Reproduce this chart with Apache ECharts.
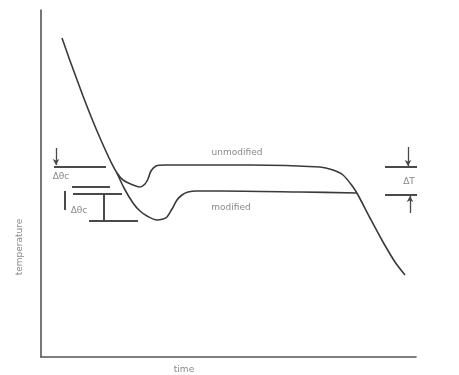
<!DOCTYPE html>
<html>
<head>
<meta charset="utf-8">
<script src="https://cdn.jsdelivr.net/npm/echarts@6/dist/echarts.min.js"></script>
<style>html,body{margin:0;padding:0;background:#fff}#c{width:459px;height:375px}</style>
</head>
<body>
<div id="c"></div>
<script>
// Cooling curves (arbitrary time / temperature units)
const unmodified = [
  [21,319],[28,299],[35,280],[42,261],[49,243],[56,226],[63,210],[70,195],[76,184],[82,177],
  [92,172],[99,170],[104,173],[107,178],[110,186],[115,191],[124,192],[209,192],[279,190],
  [292,187],[302,182],[312,170],[317,162],[329,139],[342,115],[354,95],[364,82]
];
const modified = [
  [76,184],[83,169],[92,154],[99,146],[106,141],[116,137],[122,138],[126,140],[131,148],
  [136,157],[141,162],[147,165],[156,166],[179,166],[259,165],[316,164]
];
// Annotation segments (plain bars)
const bars = [
  [[13,190],[65,190]],
  [[31,170],[69,170]],
  [[32,163],[81,163]],
  [[24,166],[24,147]],
  [[63,163],[63,137]],
  [[48,136],[97,136]],
  [[344,190],[414,190]],
  [[344,162],[414,162]]
];
// Annotation arrows (from, to)
const arrows = [
  [[15,209],[15,192]],
  [[367,210],[367,191]],
  [[369,144],[369,161]]
];
// Text labels [x, y, text, rotate]
const labels = [
  [196,204,'unmodified',0],
  [190,149,'modified',0],
  [20,180,'Δθc',0],
  [38,146,'Δθc',0],
  [368,175,'ΔT',0],
  [143,-13,'time',0],
  [-21,110,'temperature',90]
];

const lineColor = '#3a3a3a';
const series = [];
series.push({type:'line', data:unmodified, smooth:0.3, showSymbol:false, clip:false,
  lineStyle:{color:lineColor, width:1.6}, silent:true});
series.push({type:'line', data:modified, smooth:0.3, showSymbol:false, clip:false,
  lineStyle:{color:lineColor, width:1.6}, silent:true});
bars.forEach(b => series.push({type:'line', data:b, showSymbol:false, clip:false,
  lineStyle:{color:'#4a4a4a', width:2}, silent:true}));
series.push({type:'line', data:[], clip:false, silent:true,
  markLine:{silent:true, symbol:['none','arrow'], symbolSize:[5,6],
    lineStyle:{color:'#4a4a4a', width:1.3, type:'solid'}, label:{show:false},
    data: arrows.map(a => [{coord:a[0]},{coord:a[1]}])}});
series.push({type:'scatter', clip:false, silent:true, symbolSize:0,
  data: labels.map(l => ({value:[l[0],l[1]], name:l[2],
    label:{show:true, position:'inside', formatter:l[2], rotate:l[3],
      color:'#6a6a6a', fontSize:9, fontFamily:'DejaVu Sans'}}))});

const chart = echarts.init(document.getElementById('c'), null, {renderer:'canvas'});
chart.setOption({
  animation:false,
  grid:{left:41, right:43, top:10, bottom:18},
  xAxis:{type:'value', min:0, max:375, axisLine:{show:true, lineStyle:{color:'#555', width:1.6}},
    axisTick:{show:false}, axisLabel:{show:false}, splitLine:{show:false}},
  yAxis:{type:'value', min:0, max:347, axisLine:{show:true, lineStyle:{color:'#555', width:1.6}},
    axisTick:{show:false}, axisLabel:{show:false}, splitLine:{show:false}},
  series: series
});
</script>
</body>
</html>
